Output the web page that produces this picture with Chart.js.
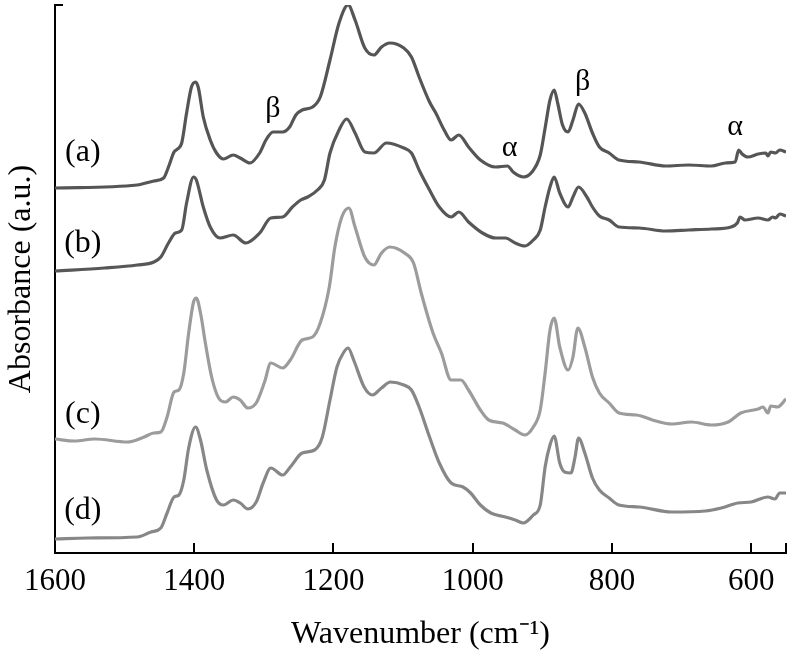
<!DOCTYPE html>
<html>
<head>
<meta charset="utf-8">
<script src="https://cdn.jsdelivr.net/npm/chart.js@4/dist/chart.umd.min.js"></script>
<style>
  html, body { margin: 0; padding: 0; background: #ffffff; }
  #wrap { width: 796px; height: 656px; position: relative; }
</style>
</head>
<body>
<div id="wrap"><canvas id="c" width="796" height="656"></canvas></div>
<script>
// ---- Data (wavenumber in cm^-1, absorbance in arbitrary units, curves offset) ----
const xTickValues = [1600, 1400, 1200, 1000, 800, 600];
const xTickLabels = ['1600', '1400', '1200', '1000', '800', '600'];
const seriesNames = ['(a)', '(b)', '(c)', '(d)'];

const waveA = [1600,1482,1458,1444,1437,1429,1424,1418,1411,1404,1398,1394,1387,1377,1368,1358,1344,1334,1320,1306,1297,1287,1273,1263,1254,1245,1230,1219,1205,1192,1179,1169,1155,1142,1131,1119,1099,1088,1077,1062,1053,1041,1031,1020,1006,989,967,950,942,927,915,903,896,889,883,878,871,863,856,848,839,828,818,804,790,761,723,690,657,637,623,618,613,605,590,579,576,572,565,559,550];
const absA  = [3.65,3.68,3.72,3.75,3.86,4.01,4.04,4.10,4.40,4.66,4.71,4.65,4.36,4.13,4.00,3.94,3.98,3.95,3.90,4.00,4.13,4.21,4.21,4.26,4.38,4.43,4.46,4.56,4.93,5.30,5.48,5.33,5.05,4.98,5.06,5.10,5.05,4.96,4.76,4.51,4.40,4.23,4.13,4.18,4.06,3.93,3.86,3.87,3.81,3.76,3.81,3.98,4.25,4.53,4.63,4.50,4.28,4.21,4.33,4.49,4.40,4.20,4.06,4.00,3.93,3.91,3.87,3.88,3.87,3.90,3.91,4.03,3.99,3.96,3.99,4.00,3.97,4.01,4.00,4.03,4.01];

const waveB = [1600,1529,1482,1458,1448,1437,1427,1418,1411,1401,1397,1387,1377,1363,1344,1326,1306,1290,1273,1259,1247,1237,1223,1213,1205,1192,1181,1169,1155,1142,1124,1099,1088,1077,1062,1048,1031,1020,1006,986,967,953,939,925,913,903,896,889,883,875,863,856,848,836,828,818,804,790,761,723,690,657,629,620,616,609,590,576,569,565,559,550];
const absB  = [2.82,2.85,2.88,2.91,2.96,3.10,3.20,3.23,3.50,3.76,3.73,3.46,3.26,3.15,3.18,3.10,3.20,3.35,3.36,3.46,3.53,3.56,3.63,3.73,4.00,4.23,4.34,4.20,4.01,4.00,4.10,4.05,4.00,3.83,3.63,3.46,3.36,3.41,3.31,3.20,3.15,3.15,3.10,3.07,3.13,3.23,3.46,3.66,3.76,3.60,3.46,3.56,3.66,3.56,3.46,3.37,3.33,3.26,3.25,3.22,3.23,3.24,3.26,3.30,3.36,3.33,3.35,3.33,3.36,3.35,3.39,3.37];

const waveC = [1600,1572,1543,1496,1472,1458,1448,1439,1429,1422,1415,1408,1401,1397,1391,1384,1375,1365,1355,1344,1334,1323,1311,1299,1290,1273,1262,1245,1230,1219,1206,1198,1188,1178,1169,1155,1142,1131,1119,1098,1085,1074,1057,1045,1031,1017,1006,989,977,957,939,925,913,903,896,889,883,875,863,856,849,839,828,818,804,790,765,737,714,686,657,633,615,590,583,576,572,562,550];
const absC  = [1.14,1.12,1.14,1.11,1.16,1.20,1.21,1.36,1.61,1.63,1.80,2.20,2.51,2.55,2.40,2.10,1.76,1.55,1.51,1.56,1.53,1.45,1.50,1.71,1.90,1.85,1.93,2.13,2.16,2.30,2.66,3.06,3.36,3.45,3.26,2.96,2.88,3.00,3.06,3.00,2.90,2.60,2.20,2.00,1.73,1.73,1.63,1.43,1.33,1.30,1.23,1.18,1.26,1.43,1.80,2.23,2.35,2.06,1.83,1.96,2.25,2.06,1.76,1.60,1.50,1.40,1.38,1.32,1.29,1.31,1.28,1.31,1.40,1.44,1.46,1.40,1.47,1.46,1.54];

const waveD = [1600,1553,1482,1462,1448,1439,1429,1422,1415,1408,1398,1391,1382,1368,1358,1344,1334,1323,1311,1301,1290,1273,1262,1245,1227,1216,1205,1195,1185,1179,1171,1156,1144,1131,1118,1099,1088,1077,1062,1048,1031,1014,1003,989,974,953,939,927,913,903,896,889,883,875,868,859,853,848,839,828,818,804,790,761,714,666,643,619,600,576,566,559,550];
const absD  = [0.14,0.15,0.16,0.21,0.25,0.40,0.56,0.58,0.73,1.05,1.26,1.13,0.83,0.53,0.48,0.53,0.50,0.44,0.51,0.70,0.85,0.78,0.86,1.00,1.03,1.16,1.53,1.86,2.01,2.05,1.93,1.66,1.58,1.65,1.71,1.68,1.63,1.46,1.16,0.90,0.70,0.66,0.60,0.48,0.40,0.36,0.33,0.30,0.38,0.48,0.86,1.08,1.17,0.90,0.81,0.80,0.96,1.15,1.00,0.75,0.63,0.55,0.48,0.46,0.41,0.42,0.45,0.50,0.51,0.56,0.54,0.60,0.60];

// Text annotations placed in data coordinates
const annotations = [
  { text: '(a)', x: 1560, y: 4.00 },
  { text: '(b)', x: 1560, y: 3.09 },
  { text: '(c)', x: 1560, y: 1.38 },
  { text: '(d)', x: 1560, y: 0.42 },
  { text: 'β', x: 1287, y: 4.44 },
  { text: 'β', x: 842, y: 4.71 },
  { text: 'α', x: 947, y: 4.05 },
  { text: 'α', x: 623, y: 4.26 }
];

const lineColors = ['#555555', '#575757', '#9c9c9c', '#878787'];
const serif = "'Liberation Serif', 'Times New Roman', serif";

function pairs(xs, ys) { return xs.map((x, i) => ({ x: x, y: ys[i] })); }
const allWave = [waveA, waveB, waveC, waveD];
const allAbs = [absA, absB, absC, absD];

const datasets = seriesNames.map((name, i) => ({
  label: name,
  data: pairs(allWave[i], allAbs[i]),
  borderColor: lineColors[i],
  borderWidth: 3.2,
  pointRadius: 0,
  fill: false,
  cubicInterpolationMode: 'monotone'
}));

const decorPlugin = {
  id: 'decor',
  afterDraw(chart) {
    const ctx = chart.ctx;
    const xs = chart.scales.x, ys = chart.scales.y;
    const area = chart.chartArea;
    ctx.save();
    ctx.strokeStyle = '#000';
    ctx.lineWidth = 2;
    // inward x ticks
    xs.ticks.forEach(t => {
      const px = Math.round(xs.getPixelForValue(t.value)) ;
      ctx.beginPath();
      ctx.moveTo(px, area.bottom);
      ctx.lineTo(px, area.bottom - 10);
      ctx.stroke();
    });
    // top tick of y axis
    ctx.beginPath();
    ctx.moveTo(area.left, area.top);
    ctx.lineTo(area.left + 8, area.top);
    ctx.stroke();
    // annotations
    ctx.fillStyle = '#000';
    ctx.textAlign = 'center';
    ctx.textBaseline = 'middle';
    annotations.forEach(a => {
      const greek = a.text.length === 1;
      ctx.font = (greek ? '30px ' : '32px ') + serif;
      ctx.fillText(a.text, xs.getPixelForValue(a.x), ys.getPixelForValue(a.y));
    });
    ctx.restore();
  }
};

new Chart(document.getElementById('c'), {
  type: 'line',
  data: { datasets: datasets },
  options: {
    responsive: false,
    animation: false,
    layout: { padding: { top: 5, right: 3, left: 0, bottom: 0 } },
    plugins: { legend: { display: false }, tooltip: { enabled: false } },
    scales: {
      x: {
        type: 'linear',
        reverse: true,
        min: 550,
        max: 1600,
        afterBuildTicks(scale) {
          scale.ticks = xTickValues.concat([550]).map(v => ({ value: v }));
        },
        afterFit(scale) { scale.height = 103; },
        ticks: {
          autoSkip: false,
          maxRotation: 0,
          padding: 10,
          color: '#000',
          font: { family: serif, size: 31 },
          callback(value) {
            const i = xTickValues.indexOf(value);
            return i >= 0 ? xTickLabels[i] : '';
          }
        },
        grid: { display: false, drawTicks: false },
        border: { display: true, color: '#000', width: 2 },
        title: {
          display: true,
          text: 'Wavenumber (cm\u207B\u00B9)',
          color: '#000',
          font: { family: serif, size: 32 },
          padding: { top: 0, bottom: 2 }
        }
      },
      y: {
        type: 'linear',
        min: 0,
        max: 5.48,
        afterFit(scale) { scale.width = 55; },
        ticks: { display: false },
        grid: { display: false, drawTicks: false },
        border: { display: true, color: '#000', width: 2 },
        title: {
          display: true,
          text: 'Absorbance (a.u.)',
          color: '#000',
          font: { family: serif, size: 32 },
          padding: { top: 2, bottom: 0 }
        }
      }
    }
  },
  plugins: [decorPlugin]
});
</script>
</body>
</html>
